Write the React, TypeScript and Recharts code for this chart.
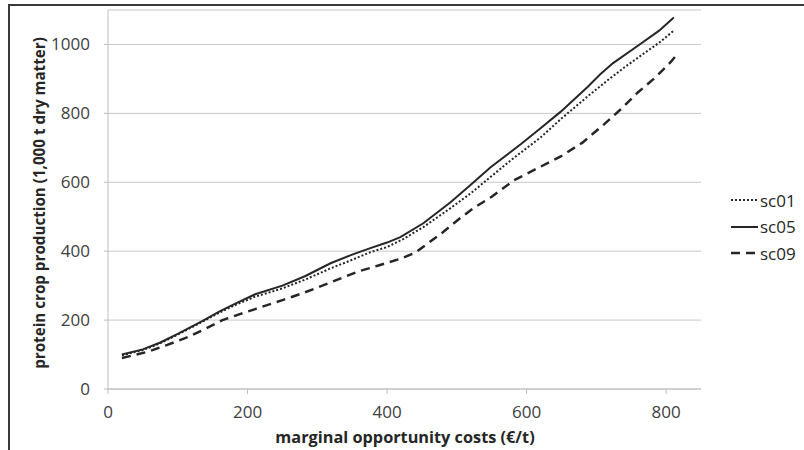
import { LineChart, Line, XAxis, YAxis, CartesianGrid, Legend } from 'recharts';

// marginal opportunity costs (€/t) -> protein crop production (1,000 t dry matter)
const sc01X = [20, 50, 75, 100, 135, 160, 187, 211, 250, 283, 319, 350, 376, 400, 423, 452, 491, 520, 548, 580, 620, 650, 688, 716, 740, 764, 790, 811];
const sc01Y = [98, 113, 133, 158, 195, 222, 248, 268, 292, 318, 350, 375, 397, 412, 435, 470, 525, 568, 615, 668, 730, 785, 850, 896, 933, 968, 1005, 1040];

const sc05X = [20, 50, 75, 100, 135, 160, 187, 211, 250, 283, 319, 350, 376, 400, 419, 452, 491, 520, 548, 592, 620, 649, 668, 687, 706, 724, 760, 790, 811];
const sc05Y = [100, 115, 135, 160, 197, 225, 252, 275, 300, 328, 365, 390, 409, 425, 441, 481, 542, 593, 643, 711, 757, 805, 840, 876, 914, 946, 997, 1040, 1078];

const sc09X = [20, 57, 85, 115, 140, 164, 190, 211, 250, 279, 310, 357, 390, 419, 440, 462, 480, 501, 524, 550, 582, 615, 649, 680, 711, 735, 759, 785, 807, 818];
const sc09Y = [90, 108, 128, 151, 175, 200, 218, 232, 258, 278, 302, 340, 360, 378, 395, 428, 455, 490, 525, 558, 606, 640, 675, 715, 768, 812, 860, 905, 950, 977];

const xTicks = [0, 200, 400, 600, 800];
const yTicks = [0, 200, 400, 600, 800, 1000];

const toPoints = (xs: number[], ys: number[]) => xs.map((x, i) => ({ x, y: ys[i] }));

const series = [
  { name: 'sc01', data: toPoints(sc01X, sc01Y), dash: '2 2', width: 2 },
  { name: 'sc05', data: toPoints(sc05X, sc05Y), dash: undefined, width: 2 },
  { name: 'sc09', data: toPoints(sc09X, sc09Y), dash: '9 6', width: 2.5 },
];

const lineColor = '#262626';
const axisColor = '#bdbdbd';
const font = '"Open Sans", sans-serif';

function LegendBox() {
  return (
    <div style={{ fontFamily: font, fontSize: 17, color: '#262626' }}>
      {series.map((s) => (
        <div key={s.name} style={{ display: 'flex', alignItems: 'center', height: 26.5 }}>
          <svg width={28} height={6} style={{ marginRight: 1 }}>
            <line x1={0} y1={3} x2={27} y2={3} stroke={lineColor} strokeWidth={s.width} strokeDasharray={s.dash} />
          </svg>
          <span>{s.name}</span>
        </div>
      ))}
    </div>
  );
}

export default function App() {
  return (
    <div style={{ position: 'absolute', left: 0, top: 0, width: 804, height: 450, background: '#fff', overflow: 'hidden' }}>
      <div
        style={{
          position: 'absolute',
          left: 8,
          top: 4,
          width: 820,
          height: 470,
          borderLeft: '2px solid #3a3a3a',
          borderTop: '2px solid #3a3a3a',
        }}
      />
      <LineChart
        width={804}
        height={450}
        margin={{ top: 10, right: 103, bottom: 0, left: 0 }}
        style={{ position: 'absolute', left: 0, top: 0 }}
      >
        <CartesianGrid horizontal vertical={false} stroke="#c8c8c8" />
        <XAxis
          type="number"
          dataKey="x"
          domain={[0, 850]}
          ticks={xTicks}
          height={61}
          stroke={axisColor}
          tickSize={5}
          tickMargin={12}
          tick={{ fill: '#404040', fontSize: 17, fontFamily: font }}
          label={{
            content: () => (
              <text x={405} y={443} textAnchor="middle" fontFamily={font} fontSize={16.3} fontWeight="bold" fill="#262626">
                marginal opportunity costs (€/t)
              </text>
            ),
          }}
        />
        <YAxis
          type="number"
          dataKey="y"
          domain={[0, 1100]}
          ticks={yTicks}
          width={108}
          stroke={axisColor}
          tickSize={4}
          tickMargin={14}
          tick={{ fill: '#404040', fontSize: 17, fontFamily: font }}
          label={{
            content: () => (
              <text
                x={39}
                y={203}
                textAnchor="middle"
                dominantBaseline="central"
                transform="rotate(-90, 39, 203)"
                fontFamily={font}
                fontSize={15.2}
                fontWeight="bold"
                fill="#262626"
              >
                protein crop production (1,000 t dry matter)
              </text>
            ),
          }}
        />
        <Legend
          layout="vertical"
          align="center"
          verticalAlign="middle"
          content={() => <LegendBox />}
          wrapperStyle={{ left: 731, top: 187, width: 80 }}
        />
        {series.map((s) => (
          <Line
            key={s.name}
            name={s.name}
            data={s.data}
            dataKey="y"
            type="linear"
            stroke={lineColor}
            strokeWidth={s.width}
            strokeDasharray={s.dash}
            dot={false}
            activeDot={false}
            isAnimationActive={false}
          />
        ))}
      </LineChart>
    </div>
  );
}
